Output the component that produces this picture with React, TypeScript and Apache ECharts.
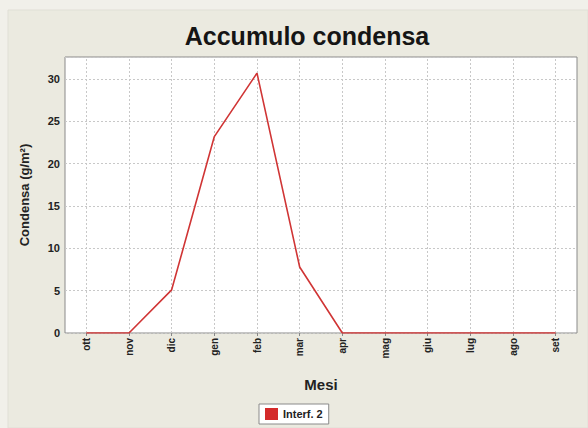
import React, { useEffect, useRef } from "react";
import * as echarts from "echarts";

const months = ["ott", "nov", "dic", "gen", "feb", "mar", "apr", "mag", "giu", "lug", "ago", "set"];
const interf2 = [0, 0, 5.1, 23.2, 30.7, 7.8, 0, 0, 0, 0, 0, 0];
const seriesName = "Interf. 2";
const titleText = "Accumulo condensa";
const yName = "Condensa (g/m²)";
const xName = "Mesi";

export default function App() {
  const ref = useRef<HTMLDivElement>(null);
  useEffect(() => {
    if (!ref.current) return;
    const chart = echarts.init(ref.current, undefined, { renderer: "svg" });
    const font = "Liberation Sans";
    chart.setOption({
      animation: false,
      backgroundColor: "#f1f0ea",
      graphic: [
        {
          type: "rect",
          z: -10,
          shape: { x: 8, y: 10, width: 580, height: 418 },
          style: { fill: "#ebeae0", stroke: "#e0dfd6", lineWidth: 1 },
          silent: true,
        },
      ],
      title: {
        text: titleText,
        left: 302,
        textAlign: "center",
        top: 18,
        textStyle: { fontFamily: font, fontSize: 25, fontWeight: "bold", color: "#151515" },
      },
      grid: { left: 65, right: 11, top: 57, bottom: 95, show: true, backgroundColor: "#ffffff", borderColor: "#8a8a8a", borderWidth: 1 },
      legend: {
        top: 404,
        left: 259,
        icon: "rect",
        itemWidth: 13,
        itemHeight: 12,
        itemGap: 4,
        backgroundColor: "#ffffff",
        borderColor: "#8a8a8a",
        borderWidth: 1,
        padding: [4, 6, 4, 6],
        textStyle: { fontFamily: font, fontSize: 11, fontWeight: "bold", color: "#222" },
        data: [seriesName],
      },
      xAxis: {
        type: "category",
        data: months,
        boundaryGap: true,
        name: xName,
        nameLocation: "middle",
        nameGap: 44,
        nameTextStyle: { fontFamily: font, fontSize: 15, fontWeight: "bold", color: "#222" },
        axisLine: { show: false },
        axisTick: { show: true, alignWithLabel: true, length: 3, lineStyle: { color: "#888" } },
        axisLabel: { rotate: 90, fontFamily: font, fontSize: 10, fontWeight: "bold", color: "#222", margin: 5 },
        splitLine: { show: false },
      },
      yAxis: {
        type: "value",
        min: 0,
        max: 32.6,
        interval: 5,
        name: yName,
        nameLocation: "middle",
        nameGap: 34,
        nameTextStyle: { fontFamily: font, fontSize: 13, fontWeight: "bold", color: "#222" },
        axisLine: { show: false },
        axisTick: { show: false },
        axisLabel: { showMaxLabel: false, fontFamily: font, fontSize: 11, fontWeight: "bold", color: "#222", margin: 5 },
        splitLine: { show: true, lineStyle: { color: "#c8c8c8", type: [2, 2], width: 1 } },
      },
      series: [
        {
          name: seriesName,
          type: "line",
          data: interf2,
          symbol: "none",
          color: "#d42a2a",
          lineStyle: { color: "#d03535", width: 1.6 },
          markLine: {
            silent: true,
            symbol: "none",
            label: { show: false },
            lineStyle: { color: "#c8c8c8", type: [2, 2], width: 1 },
            data: months.map((m) => ({ xAxis: m })),
            z: 1,
          },
          z: 3,
        },
      ],
    });
    return () => chart.dispose();
  }, []);
  return <div ref={ref} style={{ position: "fixed", left: 0, top: 0, width: 588, height: 428 }} />;
}
